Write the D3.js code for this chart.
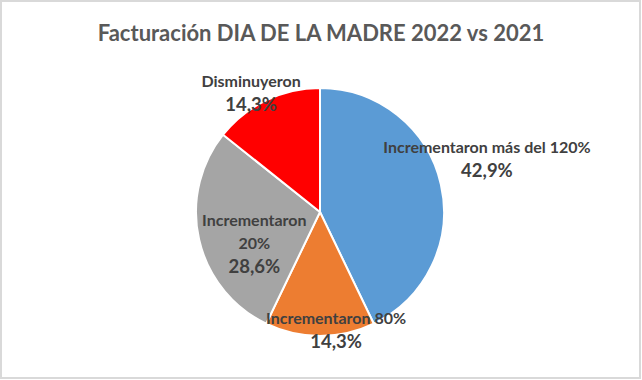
<!DOCTYPE html>
<html>
<head>
<meta charset="utf-8">
<script src="https://cdn.jsdelivr.net/npm/d3@7"></script>
<style>
  body { margin: 0; background: #fff; }
  text { font-family: Lato, "Open Sans", sans-serif; font-weight: bold; }
</style>
</head>
<body>
<div id="chart"></div>
<script>
var width = 642,
    height = 380;

// datos
var categories = ["Incrementaron más del 120%", "Incrementaron 80%", "Incrementaron 20%", "Disminuyeron"];
var labelLines = [["Incrementaron más del 120%"], ["Incrementaron 80%"], ["Incrementaron", "20%"], ["Disminuyeron"]];
var values = [42.9, 14.3, 28.6, 14.3];
var pctLabels = ["42,9%", "14,3%", "28,6%", "14,3%"];
var colors = ["#5B9BD5", "#ED7D31", "#A5A5A5", "#FF0000"];

// where each label sits: radius and small angle shift (deg) from slice middle
var labelRadius = [175, 120, 73, 137];
var labelShift = [-4.6, -7.7, -13, -4.5];

var svg = d3.select("#chart").append("svg")
    .attr("width", width)
    .attr("height", height);

svg.append("rect")
    .attr("x", 1).attr("y", 1)
    .attr("width", width - 3).attr("height", height - 3)
    .attr("fill", "#fff")
    .attr("stroke", "#d9d9d9")
    .attr("stroke-width", 2);

svg.append("text")
    .attr("x", width / 2)
    .attr("y", 41)
    .attr("text-anchor", "middle")
    .attr("fill", "#595959")
    .attr("font-size", 22)
    .text("Facturación DIA DE LA MADRE 2022 vs 2021");

var cx = 320, cy = 212, r = 124;

var pie = d3.pie().sort(null).value(function(d) { return d; });
var arcs = pie(values);

var arc = d3.arc().innerRadius(0).outerRadius(r);

var g = svg.append("g").attr("transform", "translate(" + cx + "," + cy + ")");

g.selectAll("path")
  .data(arcs)
  .enter().append("path")
    .attr("d", arc)
    .attr("fill", function(d, i) { return colors[i]; })
    .attr("stroke", "#fff")
    .attr("stroke-width", 2);

var labels = g.selectAll("g.lbl")
  .data(arcs)
  .enter().append("g")
    .attr("class", "lbl")
    .attr("transform", function(d, i) {
      var a = (d.startAngle + d.endAngle) / 2 + labelShift[i] * Math.PI / 180;
      var x = Math.sin(a) * labelRadius[i],
          y = -Math.cos(a) * labelRadius[i];
      return "translate(" + x + "," + y + ")";
    });

labels.each(function(d, i) {
  var el = d3.select(this);
  var lines = labelLines[i];
  var top = -(lines.length * 23) / 2;
  lines.forEach(function(t, j) {
    el.append("text")
      .attr("y", top + j * 23 + 5)
      .attr("text-anchor", "middle")
      .attr("fill", "#404040")
      .attr("font-size", 16)
      .text(t);
  });
  el.append("text")
    .attr("y", top + lines.length * 23 + 6)
    .attr("text-anchor", "middle")
    .attr("fill", "#404040")
    .attr("font-size", 18.5)
    .text(pctLabels[i]);
});
</script>
</body>
</html>
